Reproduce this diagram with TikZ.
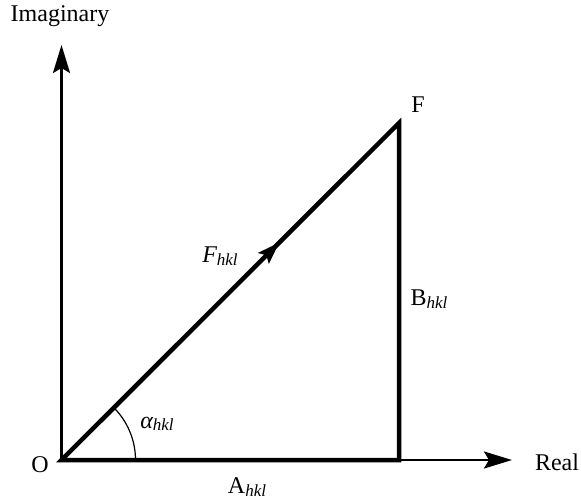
\documentclass[tikz,border=0pt]{standalone}
\usepackage{fontspec}
\setmainfont{Liberation Serif}
\usetikzlibrary{arrows.meta,calc}
\begin{document}
\begin{tikzpicture}[x=1pt,y=-1pt,
  thickline/.style={line width=4.5pt,line cap=rect},
  axisline/.style={line width=2.6pt},
  lbl/.style={font=\fontsize{24}{26}\selectfont,inner sep=0pt}]
\useasboundingbox (0,0) rectangle (581,499);
\coordinate (O) at (61.5,460);
\coordinate (F) at (399,123);
\coordinate (B) at (399,460);
\coordinate (Itip) at (61.5,45);
\coordinate (Rtip) at (512,460);
% axes
\draw[axisline,-{Stealth[length=28pt,width=17pt,inset=5pt]}] (O) -- (Itip);
\draw[axisline,-{Stealth[length=28pt,width=17pt,inset=5pt]}] (B) -- (Rtip);
% triangle
\draw[thickline,line join=miter] (O) -- (B) -- (F) -- cycle;
\draw[line width=3.5pt,-{Stealth[length=22pt,width=15pt,inset=4pt]}] (O) -- ($(O)!0.645!(F)$);
% angle arc
\draw[line width=1.2pt] ($(O)+(74,0)$) arc[start angle=0,end angle=-45,radius=74];
% labels
\newcommand{\hklsub}{\raisebox{-2.5pt}{\fontsize{17}{18}\selectfont\itshape hkl}}
\node[lbl] (limag) at (60,16) {Imaginary};
\node[lbl] (lreal) at (557,462) {Real};
\node[lbl] (lO) at (40,465) {O};
\node[lbl] (lF) at (418,105) {F};
\node[lbl] (lA) at (247,487) {A\hklsub};
\node[lbl] (lB) at (429,299) {B\hklsub};
\node[lbl] (lFh) at (220,256) {\itshape F\hklsub};
\node[lbl] (lal) at (157,424) {\itshape α\hklsub};
\end{tikzpicture}
\end{document}
